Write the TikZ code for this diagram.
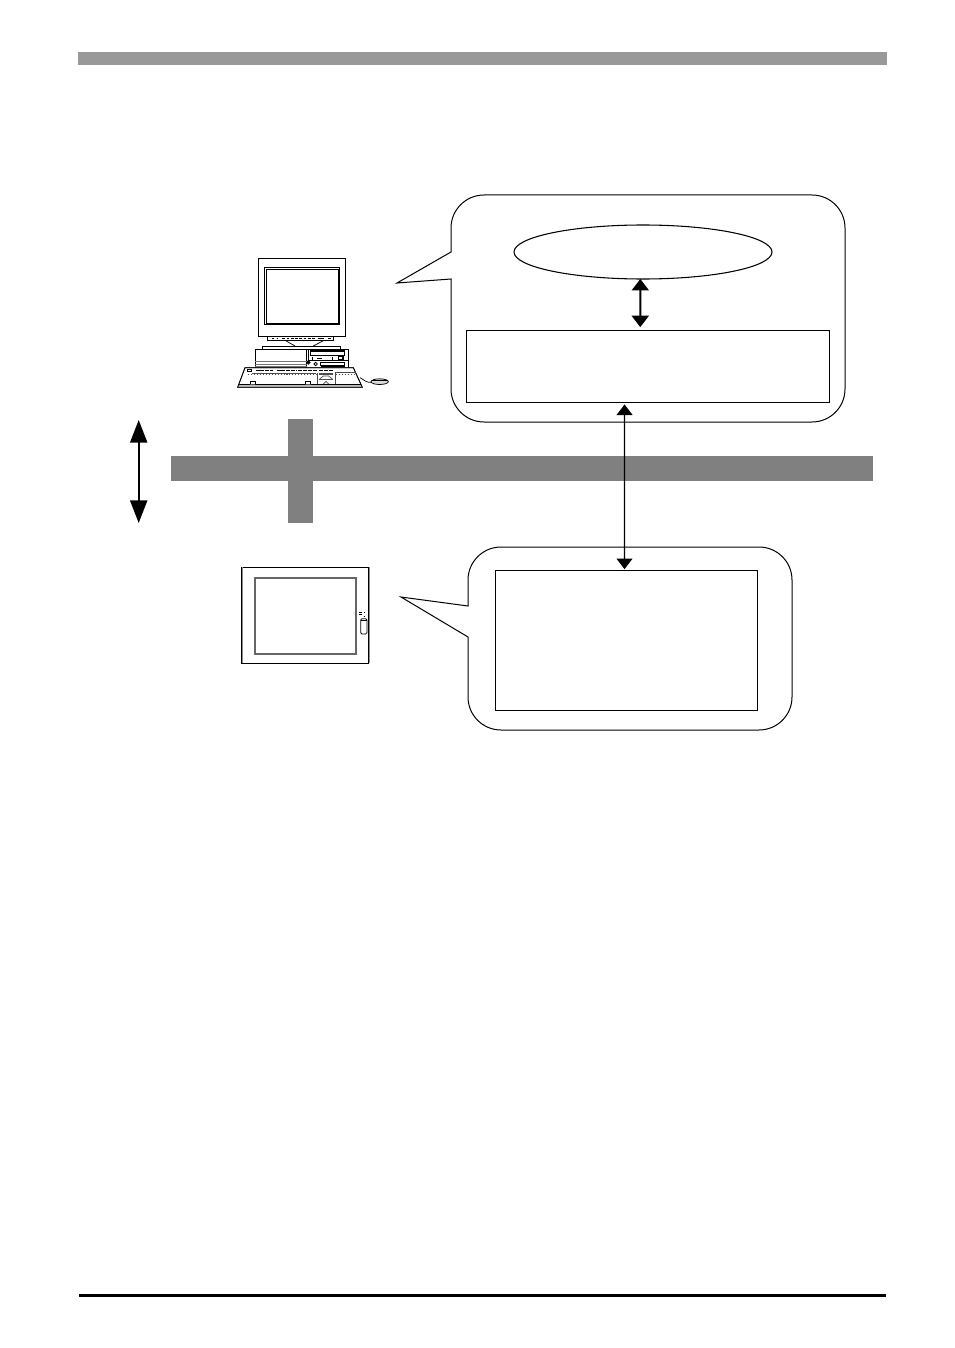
\documentclass[tikz,border=0pt]{standalone}
\usetikzlibrary{arrows.meta,shapes.geometric}
\definecolor{barGray}{HTML}{808080}
\definecolor{topGray}{HTML}{999999}
\tikzset{
  thinln/.style={draw=black,line width=0.75pt},
  boxnode/.style={draw=black,line width=0.9pt,rectangle,inner sep=0pt,outer sep=0pt,fill=white},
  ovalnode/.style={draw=black,line width=0.8pt,ellipse,inner sep=0pt,outer sep=0pt,fill=white},
  barnode/.style={fill=barGray,rectangle,inner sep=0pt,outer sep=0pt},
  dblarrow/.style={draw=black,line width=1.5pt,{Triangle[length=8.6pt,width=12.8pt]}-{Triangle[length=8.6pt,width=12.8pt]}},
  bigarrow/.style={draw=black,line width=1.5pt,{Triangle[length=17pt,width=12.8pt]}-{Triangle[length=17pt,width=12.8pt]}},
  slimarrow/.style={draw=black,line width=0.9pt,{Triangle[length=8pt,width=12pt]}-{Triangle[length=8pt,width=12pt]}},
  pcline/.style={draw=black,line width=0.55pt},
  pcheavy/.style={draw=black,line width=1.1pt},
  pcdash/.style={draw=black,line width=1.2pt},
  pcgray/.style={draw=black!55,line width=0.5pt},
  keyln/.style={draw=black!70,line width=0.5pt},
}
\begin{document}
\begin{tikzpicture}[x=0.75pt,y=-0.75pt]
\useasboundingbox (0,0) rectangle (954,1348);
\fill[white] (0,0) rectangle (954,1348);
% page rules
\fill[topGray] (78,52) rectangle (887,65);
\fill[black] (79,1294) rectangle (886,1296.6);
% network bars
\node[barnode,minimum width=526.5pt,minimum height=18.75pt,anchor=north west] (bus) at (171,456) {};
\node[barnode,minimum width=18.75pt,minimum height=78pt,anchor=north west] (drop) at (288,419) {};
% left double arrow
\coordinate (leftTop) at (138.7,420);
\coordinate (leftBot) at (138.7,523);
\draw[bigarrow] (leftTop) -- (leftBot);
% upper balloon
\draw[thinln,fill=white] (451,252) -- (397,283) -- (451,279) -- (451,389)
  .. controls (451,407.2) and (465.8,422) .. (484,422) -- (812,422)
  .. controls (830.2,422) and (845,407.2) .. (845,389) -- (845,228)
  .. controls (845,209.8) and (830.2,195) .. (812,195) -- (484,195)
  .. controls (465.8,195) and (451,209.8) .. (451,228) -- cycle;
% lower balloon
\draw[thinln,fill=white] (468,637) -- (401,597) -- (468,606) -- (468,580)
  .. controls (468,561.8) and (482.8,547) .. (501,547) -- (759,547)
  .. controls (777.2,547) and (792,561.8) .. (792,580) -- (792,697)
  .. controls (792,715.2) and (777.2,730) .. (759,730) -- (501,730)
  .. controls (482.8,730) and (468,715.2) .. (468,697) -- cycle;
% inner shapes
\node[ovalnode,minimum width=193.5pt,minimum height=40.5pt] (oval) at (643,252) {};
\node[boxnode,minimum width=272.2pt,minimum height=54.4pt,anchor=north west] (upbox) at (466.7,330.2) {};
\node[boxnode,minimum width=196.5pt,minimum height=105pt,anchor=north west] (lowbox) at (495.5,570.5) {};
\draw[dblarrow] ([xshift=-2pt]oval.south) -- ([xshift=-5.95pt,yshift=2.3pt]upbox.north);
\draw[slimarrow] ([xshift=-17.7pt,yshift=-1.3pt]upbox.south) -- ([xshift=-1.5pt,yshift=1pt]lowbox.north);
% personal computer
\begin{scope}[shift={(225,250)},x=0.25pt,y=-0.25pt]
  \draw[pcline] (100,25) rectangle (362,258);
  \draw[pcline] (118,52) rectangle (343,224);
  \draw[pcline] (123,58) rectangle (339,219);
  \draw[pcline] (127,258) rectangle (325,272);
  \draw[pcdash,dash pattern=on 2pt off 1.2pt] (172,266) -- (270,266);
  \draw[pcdash,line width=0.8pt] (140,266) -- (146,266) (155,266) -- (160,266) (278,266) -- (298,266) (310,266) -- (318,266);
  \draw[pcline] (182,272) -- (210,288) (295,272) -- (265,288);
  \draw[pcline] (112,288) rectangle (347,297);
  \draw[pcline] (91,297) rectangle (370,355);
  \draw[pcline] (245,297) -- (245,355);
  \draw[pcheavy] (250,298) -- (370,298) -- (370,355);
  \draw[pcheavy] (250,298) -- (250,332);
  \draw[pcline] (255,302) rectangle (358,317);
  \draw[pcdash] (255,303) -- (358,303);
  \draw[pcline] (252,332) -- (368,332);
  \draw[pcheavy] (275,325) -- (290,325) (340,320) rectangle (354,330);
  \draw[pcline] (262,322) -- (262,329) (322,322) -- (322,329);
  \draw[pcline] (287,337) rectangle (358,345);
  \draw[pcheavy] (287,348) -- (360,348);
  \draw[pcheavy] (250,337) circle (4);
  \draw[pcline] (272,342) circle (5);
  \draw[pcgray] (91,335) -- (245,335) (91,342) -- (245,342) (91,348) -- (245,348);
  % keyboard
  \draw[pcline,fill=white] (60,353) -- (385,353) -- (412,412) -- (38,412) -- cycle;
  \fill[black!25] (42,403) -- (408,403) -- (412,412) -- (38,412) -- cycle;
  \draw[pcline] (60,353) -- (385,353) -- (412,412) -- (38,412) -- cycle;
  \draw[pcline] (42,403) -- (408,403);
  \draw[pcdash,line width=0.9pt,dash pattern=on 3pt off 0.6pt] (92,361) -- (145,361) (155,361) -- (215,361) (220,361) -- (275,361) (283,361) -- (323,361);
  \draw[pcline] (66,357) rectangle (78,364);
  \draw[keyln] (82,370) -- (272,370);
  \draw[keyln,dash pattern=on 0.8pt off 1.4pt] (70,373) -- (274,373);
  \draw[keyln] (278,370) -- (278,402);
  \draw[keyln,line width=0.8pt] (283,372) -- (323,372) (283,388) -- (323,388);
  \draw[keyln] (283,388) -- (295,378) -- (311,378) -- (323,388) (295,402) -- (303,394) -- (311,402);
  \draw[keyln] (330,368) -- (392,368) (330,368) -- (330,402);
  \draw[keyln,dash pattern=on 0.8pt off 1.4pt] (334,373) -- (390,373);
  \fill[white] (75,394) rectangle (90,403) (242,394) rectangle (257,403);
  \draw[pcline] (75,403) -- (75,394) -- (90,394) -- (90,403) (242,403) -- (242,394) -- (257,394) -- (257,403);
  % mouse
  \draw[pcline] (405,383) .. controls (420,392) and (425,398) .. (438,397);
  \draw[pcline,fill=black!15] (464,395) ellipse (26 and 8.5);
  \draw[pcline] (440,392) -- (488,392);
\end{scope}
% touch panel
\begin{scope}[shift={(230,560)},x=0.25pt,y=-0.25pt]
  \draw[line width=0.55pt,fill=white] (35,22) rectangle (416,310);
  \draw[line width=1.1pt,black!45] (419,22) -- (419,310);
  \draw[line width=1.1pt,black!45] (38,22) -- (38,310);
  \draw[line width=1.3pt,black!60] (75,54) rectangle (379,282);
  \draw[pcline,fill=white,rounded corners=1pt] (392,176) rectangle (411,222);
  \draw[pcline] (392,182) -- (411,182);
  \draw[pcdash,line width=0.6pt] (387,158) -- (395,158) (401,158) -- (405,158) (387,163) -- (395,163) (401,168) -- (405,168);
\end{scope}
\end{tikzpicture}
\end{document}
